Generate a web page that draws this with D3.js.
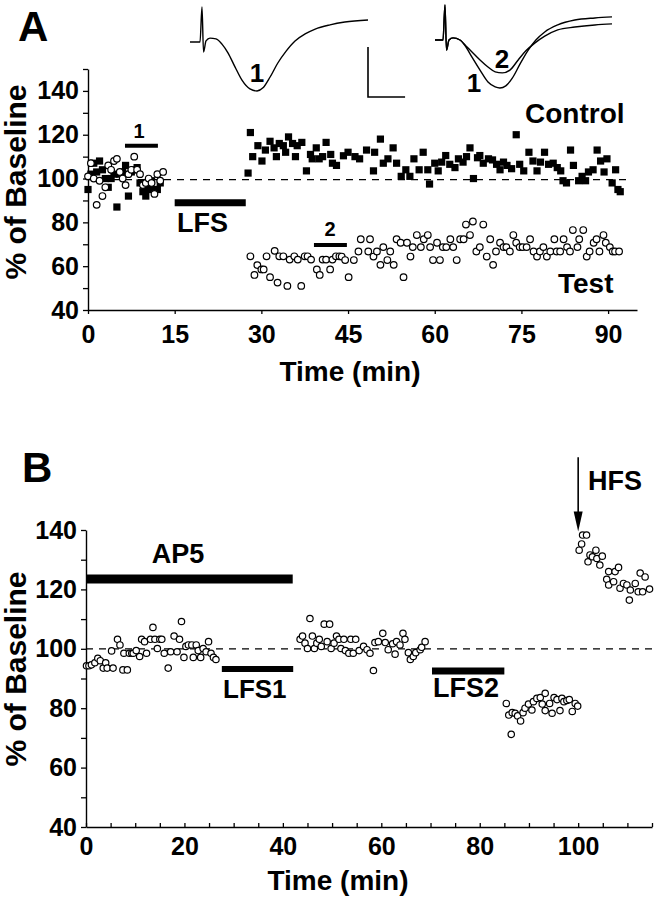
<!DOCTYPE html>
<html><head><meta charset="utf-8">
<script src="https://cdn.jsdelivr.net/npm/d3@7"></script>
<style>
body{margin:0;background:#fff}
svg{display:block}
text{font-family:'Liberation Sans',Arial,Helvetica,sans-serif;font-weight:bold;fill:#000}
</style>
</head><body>
<svg id="c" width="656" height="900"></svg>
<script>
// ---------- DATA ----------
// Panel A : time (min), % of baseline
const aControl = [
[0,95],[0.5,102],[1,107],[1.5,103],[2,108],[2.5,104],[3,100],[3.5,96],[4,100],[4.5,102],[5,87],[5.5,102],[6,103],[6.5,106],[7,92],[7.5,103],[8,104],[8.5,105],[9,98],[9.5,94],[10,92],[10.5,95],[11,99],[11.5,95],[12,95],[12.5,98],
[27.7,102.5],[28.1,121],[28.5,110],[29.4,115],[30.1,108],[30.7,113],[31.5,117],[32.2,114],[32.6,110],[33.1,116],[33.8,115],[34.2,112],[34.7,119],[35.4,116],[35.9,110],[36.2,115],[37,116.5],[37.8,103.5],[38.5,111],[38.8,109],[39.5,114],[40,109],[40.6,110],[41.2,116.5],[42,111],[42.3,107],[43,106],
[44.2,110.4],[45,112],[46.2,110],[47,109],[48.2,113],[49.4,103.5],[49.6,112],[50.6,118],[51.1,107],[51.9,109],[52.8,114],[53.4,107],[54.2,101],[55,104],[55.7,101],[56.4,109],[57.3,104],[58,112],[58.8,104],[59.1,97.5],[60,107],[60.6,103.5],[61.2,107.5],[61.9,110.5],[62.6,106.5],[63.5,105],[64.1,109],[64.9,107.5],[65.5,110],[66.1,114],[66.7,100],[67.4,109.5],[67.8,110.5],[68.4,107],[69.3,109],[70,108.5],[70.7,106.5],[71.3,104],[71.9,107.5],[72.5,106],[73.3,104.5],[74.1,120],[74.7,106.5],[75.4,103.5],[76.3,112],[77,108],[77.7,103.5],[78.3,107.5],[79,112],[79.7,106.5],[80.5,107],[81.2,105],[81.8,103.5],[82.2,99],[82.8,98],[83.5,113],[84,106],[84.9,99],[85.5,101],[86.1,99],[86.6,103],[87.4,104],[88.1,113],[88.7,108],[89.3,103],[89.8,109],[90.7,98],[91.3,104],[91.7,95],[92.1,94]
];
const aTest = [
[0,101],[0.5,107],[1,100],[1.5,88],[2,99],[2.5,92],[3,96],[3.5,106],[4,104],[4.5,108],[5,109],[5.5,103],[6,100],[6.5,97],[7,102],[7.5,104],[8,110],[8.5,104],[9,102],[9.5,97],[10,98],[10.5,100],[11,98],[11.5,93],[12,102],[12.5,99],[13,103],
[28.1,64.5],[28.8,56],[29.3,60.5],[30,58.5],[30.4,58.5],[30.9,64.5],[31.5,55],[32.3,67],[32.8,52.5],[33.1,64.5],[33.8,64.5],[34.5,51],[34.9,63],[35.7,64.5],[36.3,63],[36.9,51],[37.5,64.5],[38,64.5],[38.6,63],[39.6,58.5],[40.1,56],[40.6,63],[41.2,63],[41.9,58.5],[42.3,63],[42.9,64.5],[43.5,64.5],
[43.9,64.4],[44.5,62.8],[45.1,55],[46,62.8],[46.8,66.7],[47.2,72.3],[48.5,66.7],[48.8,72.3],[49.4,64.4],[50,66.7],[50.6,60.6],[51.1,68.7],[51.8,62.8],[52.3,66.7],[52.9,60.6],[53.4,72.3],[54.1,70.7],[54.6,55],[55.2,70.7],[55.8,64.4],[56.2,68.7],[56.9,74.2],[57.6,68.7],[58.1,72.3],[58.8,74.2],[59.2,68.7],[59.7,62.8],[60.4,70.7],[60.9,62.8],[61.4,68.7],[62,68.7],[62.7,72.3],[63.2,68.7],[63.8,62.8],[64.4,72.3],[65,72.3],[65.4,79],[66.1,74.2],[66.6,80.4],[67.2,66.7],[67.8,68.7],[68.4,79],[69,64.4],[69.6,72.3],[70.1,60.6],[70.6,66.7],[71.3,70.7],[71.9,68.7],[72.4,68.7],[73,66.7],[73.6,74.2],[74.1,70.7],[74.7,68.7],[75.2,68.7],[75.9,68.7],[76.5,72.3],[77.1,66.7],[77.7,64.4],[78.2,66.7],[78.8,68.7],[79.4,64.4],[80,66.7],[80.7,72.3],[81.1,66.7],[81.7,66.7],[82.3,72.3],[82.9,68.7],[83.4,66.7],[83.9,76.5],[84.7,68.7],[85,72.3],[85.7,76.5],[86.3,64.4],[86.8,66.7],[87.5,70.7],[88,72.3],[88.5,66.7],[89.2,74.2],[89.6,70.7],[90.3,68.7],[90.8,66.7],[91.2,66.7],[91.9,66.7]
];
const aXTicks = [0,15,30,45,60,75,90];
const aYTicks = [40,50,60,70,80,90,100,110,120,130,140,150];
// annotation bars in panel A: [start min, end min, level %]
const aBar1 = [6.4,12.1,115];
const aBar2 = [39.1,44.8,69.7];
const aBarLFS = [15,27.3,88.9];

// Panel B
const bPoints = [
[0.1,94.3],[0.6,94.3],[1.1,94.6],[1.8,95.3],[2.4,96.8],[2.9,96],[3.5,93.5],[4,95.3],[4.3,93.5],[5.2,99.3],[5.5,93.5],[6.4,103.2],[6.9,101.3],[7.5,92.9],[7.7,98.5],[8.4,92.9],[8.8,98.5],[9.3,98.5],[9.6,98.5],[10.2,99.4],[10.9,97.4],[11.3,103.2],[11.9,102.4],[12.3,98.5],[13.1,103.2],[13.6,107.2],[14,103.2],[14.5,100.1],[15,103.2],[15.4,103.2],[15.9,98.5],[16.7,93.5],[17.2,99],[17.9,104.3],[18.5,99],[19,103.2],[19.4,109.2],[19.9,97.1],[20.3,100.8],[20.8,101.3],[21.5,101.3],[21.8,97.1],[22.4,101.3],[22.8,99.4],[23.3,97.1],[23.8,100.1],[24.4,99],[24.9,102.4],[25.4,98.5],[25.9,97.1],[26.4,96.4],
[43.5,103.2],[44,104.3],[44.5,101.9],[45,100.1],[45.5,110.2],[46,104.3],[46.4,100.1],[46.9,101.9],[47.4,103.2],[47.8,100.8],[48.4,108.3],[49,102.4],[49.5,108.3],[49.8,100.1],[50.4,101.9],[50.9,104.3],[51.4,103.2],[51.8,100.1],[52.4,103.2],[52.7,99.4],[53.4,98.5],[53.8,103.2],[54.3,98.5],[54.8,103.2],[55.5,99.4],
[56.4,100.8],[57.1,99.7],[57.7,98.5],[58.4,92.7],[58.7,102.1],[59.4,102.4],[60.3,105.2],[60.8,102.1],[61.4,99.7],[62.3,101.7],[62.8,98.2],[63.1,102.4],[63.8,101.3],[64.4,105.2],[64.8,103.2],[65.5,98.7],[65.9,96.4],[66.5,97.4],[67,98.7],[67.9,99.7],[68.2,100.5],[68.9,102.4],
[85.4,81.6],[85.9,77.7],[86.4,71.2],[86.6,78.5],[87.2,78.3],[87.7,77.4],[88.3,75.7],[88.8,78.5],[89.2,80],[89.9,81.4],[90.6,79.4],[90.9,82.2],[91.6,83.3],[92.3,83.6],[92.7,81.4],[93.3,85],[93.3,79.2],[94.2,81.6],[94.7,78.3],[95.1,83.6],[95.7,82.9],[96.3,79.2],[96.7,83.3],[97.1,82.2],[97.7,82.6],[98.2,82.9],[98.8,78.9],[99.4,81.6],[99.9,80.7],
[100.2,133.2],[100.7,135.3],[100.9,138.3],[101.7,138.3],[102,129.3],[102.4,131.6],[102.9,131],[103.6,133.2],[103.8,130.4],[104.4,128.2],[104.9,131.2],[105.8,123.4],[106.2,126],[106.2,121.5],[107.2,122.6],[107.5,126],[108.2,127.4],[108.5,120.4],[109.2,122],[109.9,121.5],[110.4,116.4],[110.6,119.8],[111.6,122],[112.2,119.2],[112.6,125.5],[113.1,119.2],[113.6,124.2],[114.5,120.1]
];
const bXTicks = [0,5,10,15,20,25,30,35,40,45,50,55,60,65,70,75,80,85,90,95,100,105,110,115];
const bYTicks = [40,50,60,70,80,90,100,110,120,130,140];
const bBarAP5 = [0,42,123.5];
const bBarLFS1 = [27.6,42.1,93.2];
const bBarLFS2 = [70.3,85,92.5];
const bHFS = [100,164.5,139.5];   // time, arrow top level, arrow tip level

// Inset EPSP traces: [ms, mV]
const trace1 = [[0,0],[1.69,0],[2.02,1.0],[2.28,-0.29],[2.7,0.03],[3.37,0.11],[4.38,0.09],[5.39,-0.06],[6.4,-0.31],[7.58,-0.71],[8.76,-1.09],[10.1,-1.34],[11.3,-1.4],[12.3,-1.31],[13.5,-1.0],[14.8,-0.6],[16.2,-0.26],[17.7,0.03],[19.4,0.23],[21.1,0.37],[23.6,0.49],[26.1,0.57],[30,0.63]];
const trace2a = [[0,0],[1.36,0],[1.69,1.0],[1.95,-0.29],[2.37,0],[3.05,0.06],[4.24,0],[5.25,-0.2],[6.27,-0.49],[7.63,-0.86],[8.98,-1.2],[10.2,-1.34],[11,-1.37],[12,-1.31],[13.1,-1.09],[14.4,-0.69],[15.8,-0.29],[17.1,0],[18.6,0.23],[20.8,0.43],[23.7,0.57],[27.1,0.63],[30,0.66]];
const trace2b = [[0,0],[1.36,0],[1.69,1.0],[1.95,-0.29],[2.37,0],[3.05,0.06],[4.24,0],[5.25,-0.17],[6.27,-0.34],[7.63,-0.57],[8.98,-0.77],[10.2,-0.91],[11.4,-0.94],[12.7,-0.86],[14.1,-0.57],[15.4,-0.31],[16.9,-0.09],[18.6,0.11],[20.8,0.29],[23.7,0.37],[27.1,0.43],[30,0.46]];
const scaleBar = {ms:6.25, mV:1.43, t0:30, v0:-1.57};

// ---------- DRAW ----------
const svg = d3.select("#c");
svg.append("rect").attr("width",656).attr("height",900).attr("fill","#fff");

const xA = d3.scaleLinear().domain([0,95]).range([88,637]);
const yA = d3.scaleLinear().domain([40,150]).range([310,69]);
const xB = d3.scaleLinear().domain([0,115]).range([86,652]);
const yB = d3.scaleLinear().domain([40,140]).range([827,530]);

function styleAxis(g, fs){
  g.select(".domain").attr("stroke","#000").attr("stroke-width",1.4);
  g.selectAll(".tick line").attr("stroke","#000").attr("stroke-width",1.3);
  g.selectAll(".tick text").style("font-size",fs+"px").style("font-family","'Liberation Sans',Arial,sans-serif").style("font-weight","bold").attr("fill","#000");
}

// Panel A axes
const gAx = svg.append("g").attr("transform","translate(0,310)")
  .call(d3.axisBottom(xA).tickValues(aXTicks).tickSizeInner(4).tickSizeOuter(0).tickPadding(11));
styleAxis(gAx,25);
const gAy = svg.append("g").attr("transform","translate(88,0)")
  .call(d3.axisLeft(yA).tickValues(aYTicks).tickSizeInner(5).tickSizeOuter(0).tickPadding(4)
    .tickFormat(d => (d%20===0 && d<=140) ? d : ""));
styleAxis(gAy,25);

// Panel B axes
const gBx = svg.append("g").attr("transform","translate(0,827)")
  .call(d3.axisBottom(xB).tickValues(bXTicks).tickSizeInner(-4).tickSizeOuter(0).tickPadding(10)
    .tickFormat(d => d%20===0 ? d : ""));
styleAxis(gBx,25);
const gBy = svg.append("g").attr("transform","translate(86,0)")
  .call(d3.axisLeft(yB).tickValues(bYTicks).tickSizeInner(5).tickSizeOuter(0).tickPadding(4)
    .tickFormat(d => d%20===0 ? d : ""));
styleAxis(gBy,25);

// dashed baselines
svg.append("line").attr("x1",xA(0)-2).attr("x2",xA(94)).attr("y1",yA(99.5)).attr("y2",yA(99.5))
  .attr("stroke","#000").attr("stroke-width",1.2).attr("stroke-dasharray","7,6");
svg.append("line").attr("x1",xB(0)).attr("x2",xB(115)).attr("y1",yB(100)).attr("y2",yB(100))
  .attr("stroke","#000").attr("stroke-width",1.2).attr("stroke-dasharray","7,6");

// bars
function bar(xs, ys, b, w){
  svg.append("line").attr("x1",xs(b[0])).attr("x2",xs(b[1])).attr("y1",ys(b[2])).attr("y2",ys(b[2]))
    .attr("stroke","#000").attr("stroke-width",w);
}
bar(xA,yA,aBar1,4); bar(xA,yA,aBar2,4); bar(xA,yA,aBarLFS,7);
bar(xB,yB,bBarAP5,9); bar(xB,yB,bBarLFS1,6); bar(xB,yB,bBarLFS2,7);

// Panel A data
svg.append("g").selectAll("rect").data(aControl).join("rect")
  .attr("x",d=>xA(d[0])-3.6).attr("y",d=>yA(d[1])-3.6).attr("width",7.2).attr("height",7.2).attr("fill","#000");
svg.append("g").selectAll("circle").data(aTest).join("circle")
  .attr("cx",d=>xA(d[0])).attr("cy",d=>yA(d[1])).attr("r",3.3)
  .attr("fill","#fff").attr("stroke","#000").attr("stroke-width",1.2);

// Panel B data
svg.append("g").selectAll("circle").data(bPoints).join("circle")
  .attr("cx",d=>xB(d[0])).attr("cy",d=>yB(d[1])).attr("r",3.2)
  .attr("fill","#fff").attr("stroke","#000").attr("stroke-width",1.2);

// HFS arrow
svg.append("line").attr("x1",xB(bHFS[0])).attr("x2",xB(bHFS[0])).attr("y1",yB(bHFS[1])).attr("y2",yB(bHFS[2])-18)
  .attr("stroke","#000").attr("stroke-width",1.6);
{
  const ax = xB(bHFS[0]), ay = yB(bHFS[2]);
  svg.append("path").attr("d",`M${ax-4.5},${ay-20}L${ax+4.5},${ay-20}L${ax},${ay}Z`).attr("fill","#000");
}

// Inset traces
const tx1 = d3.scaleLinear().domain([0,30]).range([190,368]);
const ty1 = d3.scaleLinear().domain([0,1]).range([42,7]);
const tx2 = d3.scaleLinear().domain([0,30]).range([435,612]);
const ty2 = d3.scaleLinear().domain([0,1]).range([40,5]);
const line1 = d3.line().x(d=>tx1(d[0])).y(d=>ty1(d[1])).curve(d3.curveMonotoneX);
const line2 = d3.line().x(d=>tx2(d[0])).y(d=>ty2(d[1])).curve(d3.curveMonotoneX);
svg.append("path").attr("d",line1(trace1)).attr("fill","none").attr("stroke","#000").attr("stroke-width",1.4);
svg.append("path").attr("d",line2(trace2a)).attr("fill","none").attr("stroke","#000").attr("stroke-width",1.4);
svg.append("path").attr("d",line2(trace2b)).attr("fill","none").attr("stroke","#000").attr("stroke-width",1.4);
// scale bar
svg.append("path")
  .attr("d",`M${tx1(scaleBar.t0)},${ty1(scaleBar.v0+scaleBar.mV)}L${tx1(scaleBar.t0)},${ty1(scaleBar.v0)}L${tx1(scaleBar.t0+scaleBar.ms)},${ty1(scaleBar.v0)}`)
  .attr("fill","none").attr("stroke","#000").attr("stroke-width",1.6);

// Texts
function txt(x,y,s,fs,anchor,rot){
  const t = svg.append("text").attr("x",x).attr("y",y).text(s).style("font-size",fs+"px")
    .attr("text-anchor",anchor||"start");
  if(rot) t.attr("transform",`rotate(${rot},${x},${y})`);
  return t;
}
txt(18,41,"A",42);
txt(22,482,"B",42);
txt(257,82,"1",26,"middle");
txt(502,68,"2",26,"middle");
txt(474,92,"1",26,"middle");
txt(139,138,"1",20,"middle");
txt(330,236,"2",20,"middle");
txt(177,232,"LFS",27);
txt(525,123,"Control",28);
txt(558,293,"Test",28);
txt(350,381,"Time (min)",28,"middle");
txt(26,182,"% of Baseline",30,"middle",-90);
txt(178,563,"AP5",27,"middle");
txt(223,698,"LFS1",26);
txt(433,697,"LFS2",27);
txt(588,490,"HFS",27);
txt(338,890,"Time (min)",28,"middle");
txt(26,669,"% of Baseline",30,"middle",-90);
</script>
</body></html>
